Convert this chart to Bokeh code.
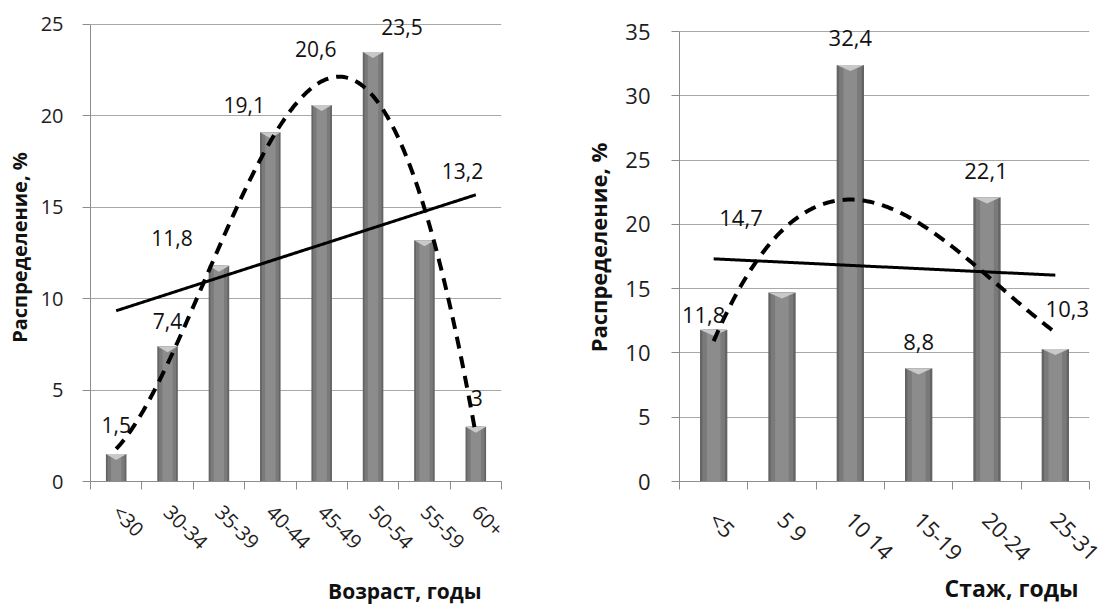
import numpy as np
from bokeh.plotting import figure
from bokeh.layouts import row
from bokeh.models import Range1d, FixedTicker, Title, LabelSet, ColumnDataSource
from bokeh.embed import file_html
from bokeh.resources import INLINE
from bokeh.core.properties import value

# ---- data ----
age_groups = ["<30", "30-34", "35-39", "40-44", "45-49", "50-54", "55-59", "60+"]
age_share = [1.5, 7.4, 11.8, 19.1, 20.6, 23.5, 13.2, 3.0]

tenure_groups = ["<5", "5 9", "10 14", "15-19", "20-24", "25-31"]
tenure_share = [11.8, 14.7, 32.4, 8.8, 22.1, 10.3]

y_title = "Распределение, %"
age_title = "Возраст, годы"
tenure_title = "Стаж, годы"

# label placement (pixel offsets from bar tops, positive = down) - styling only
age_lbl_dx = [0, 0, -47, -26, -6, 29, 38, 1]
age_lbl_dy = [-29, -25, -28, -27, -56, -25, -69, -29]
ten_lbl_dx = [-10, -41, 0, 0, -1, 12]
ten_lbl_dy = [-15, -75, -27, -26, -26, -40]

FONT = "Open Sans"


def fmt(v):
    return f"{v:g}".replace(".", ",")


def make_chart(cats, vals, ymax, y_top, width, height,
               b_left, b_right, b_top, b_bottom,
               tick_fs, lbl_fs, title_fs, dx, dy, deg, xtitle, xt_offset,
               cap_h, ytick_standoff, ylab_standoff, xtick_standoff, xt_standoff):
    n = len(cats)
    centers = [i + 0.5 for i in range(n)]
    yticks = list(range(0, ymax + 1, 5))
    p = figure(width=width, height=height, output_backend="svg", toolbar_location=None,
               x_range=Range1d(0, n), y_range=Range1d(0, y_top),
               min_border_left=b_left, min_border_right=b_right,
               min_border_top=b_top, min_border_bottom=b_bottom)
    p.outline_line_color = None
    p.background_fill_color = "white"
    p.xgrid.visible = False
    p.ygrid.ticker = FixedTicker(ticks=yticks)
    p.ygrid.grid_line_color = "#a8a8a8"
    p.ygrid.grid_line_width = 1

    # y axis
    ya = p.yaxis[0]
    ya.bounds = (0, ymax)
    ya.ticker = FixedTicker(ticks=yticks, minor_ticks=[])
    ya.axis_line_color = "#8c8c8c"
    ya.major_tick_line_color = "#8c8c8c"
    ya.major_tick_out = 8
    ya.major_tick_in = 0
    ya.minor_tick_line_color = None
    ya.major_label_text_font = FONT
    ya.major_label_text_font_size = f"{tick_fs}px"
    ya.major_label_text_color = "#1e1e1e"
    ya.major_label_standoff = ytick_standoff
    ya.axis_label = y_title
    ya.axis_label_text_font = FONT
    ya.axis_label_text_font_style = "bold"
    ya.axis_label_text_font_size = f"{title_fs}px"
    ya.axis_label_text_color = "#111111"
    ya.axis_label_standoff = ylab_standoff

    # x axis: labels at centres, ticks at category boundaries
    xa = p.xaxis[0]
    xa.ticker = FixedTicker(ticks=centers, minor_ticks=list(range(0, n + 1)))
    xa.major_label_overrides = {c: cat for c, cat in zip(centers, cats)}
    xa.axis_line_color = "#8c8c8c"
    xa.major_tick_line_color = None
    xa.major_tick_out = 0
    xa.major_tick_in = 0
    xa.minor_tick_line_color = "#8c8c8c"
    xa.minor_tick_out = 8
    xa.minor_tick_in = 0
    xa.major_label_orientation = -np.pi / 4
    xa.major_label_text_font = FONT
    xa.major_label_text_font_size = f"{tick_fs}px"
    xa.major_label_text_color = "#1e1e1e"
    xa.major_label_standoff = xtick_standoff

    # bars (layered for a shaded cylinder look)
    p.vbar(x=centers, top=vals, width=0.40, bottom=0, fill_color="#646464", line_color=None)
    p.vbar(x=centers, top=vals, width=0.33, bottom=0, fill_color="#7a7a7a", line_color=None)
    p.vbar(x=centers, top=vals, width=0.20, bottom=0, fill_color="#8c8c8c", line_color=None)
    xs = [[c - 0.2, c + 0.2, c] for c in centers]
    ys = [[v, v, v - cap_h] for v in vals]
    p.patches(xs, ys, fill_color="#c9c9c9", line_color=None)

    # trend lines
    xarr = np.array(centers)
    varr = np.array(vals)
    xx = np.linspace(centers[0], centers[-1], 200)
    lin = np.polyfit(xarr, varr, 1)
    p.line(xx, np.polyval(lin, xx), line_color="black", line_width=3)
    poly = np.polyfit(xarr, varr, deg)
    p.line(xx, np.polyval(poly, xx), line_color="black", line_width=4,
           line_dash="12 8")

    # value labels
    src = ColumnDataSource(dict(x=centers, y=vals, t=[fmt(v) for v in vals],
                                dx=dx, dy=[-d for d in dy]))
    p.add_layout(LabelSet(x="x", y="y", text="t", x_offset="dx", y_offset="dy",
                          source=src, text_font=value(FONT),
                          text_font_size=f"{lbl_fs}px",
                          text_color="#111111", text_align="center",
                          text_baseline="middle"))

    # x title
    p.add_layout(Title(text=xtitle, align="right", offset=xt_offset,
                       standoff=xt_standoff, text_font=FONT, text_font_style="bold",
                       text_font_size=f"{title_fs + 1}px", text_color="#111111"),
                 "below")
    return p


p1 = make_chart(age_groups, age_share, 25, 25.6, 560, 612,
                90, 59, 13, 131,
                20, 21, 20, age_lbl_dx, age_lbl_dy, 4, age_title, 20,
                0.33, 19, 5, 19, 15)
p2 = make_chart(tenure_groups, tenure_share, 35, 36.4, 549, 612,
                119, 20, 13, 131,
                22, 22, 22, ten_lbl_dx, ten_lbl_dy, 3, tenure_title, 11,
                0.47, 21, 9, 26, -21)

layout = row(p1, p2)
open("out.html", "w").write(file_html(layout, INLINE))
